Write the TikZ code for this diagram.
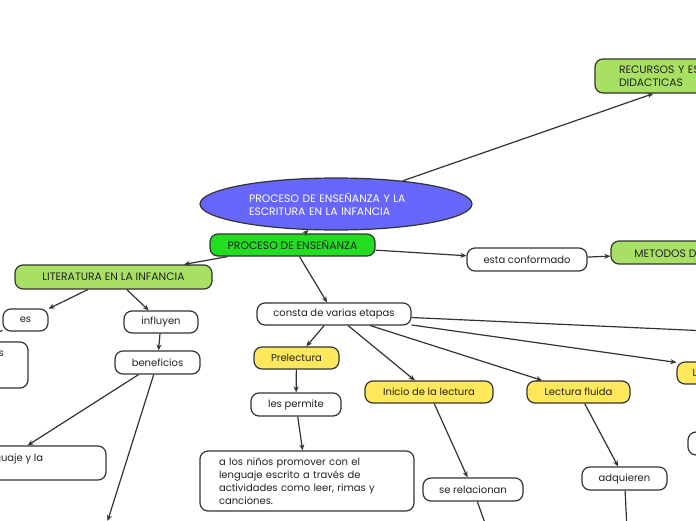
\documentclass[tikz,border=0pt]{standalone}
\usepackage{fontspec}
\setmainfont{Poppins}
\usetikzlibrary{arrows.meta,shapes.geometric,calc}
\definecolor{bordc}{HTML}{333333}
\definecolor{txtc}{HTML}{222222}
\definecolor{rootc}{HTML}{6666FA}
\definecolor{pegreen}{HTML}{22DD22}
\definecolor{lgreen}{HTML}{A8E063}
\definecolor{yel}{HTML}{FFE85C}
\tikzset{
  box/.style={draw=bordc, line width=1.2pt, rounded corners=8pt, inner sep=0pt,
    font=\fontsize{10}{13}\selectfont, text=txtc},
  capsfont/.style={font=\fontsize{10.8}{13}\selectfont},
  wbox/.style={box, fill=white},
  gbox/.style={box, fill=lgreen, capsfont},
  ybox/.style={box, fill=yel},
  conn/.style={draw=bordc, line width=1.2pt},
  arr/.style={conn, -{Stealth[length=6pt,width=5pt]}},
  plaintxt/.style={font=\fontsize{10}{13}\selectfont, text=txtc, inner sep=0pt},
}
\begin{document}
\begin{tikzpicture}[x=1pt,y=-1pt]
\useasboundingbox (0,0) rectangle (696,520);
\fill[white] (0,0) rectangle (696,520);
\clip (0,0) rectangle (696,520);

% nodes
\node[ellipse, draw=bordc, line width=1.2pt, fill=rootc, text=white, inner sep=0pt,
  minimum width=272pt, minimum height=52pt, align=left, text width=174pt,
  capsfont] (root) at (336,204)
  {PROCESO DE ENSEÑANZA Y LA\\ESCRITURA EN LA INFANCIA};
\node[box, fill=pegreen, capsfont, minimum width=165pt, minimum height=22pt] (pe) at (292.5,245) {PROCESO DE ENSEÑANZA};
\node[gbox, minimum width=218pt, minimum height=34pt, text width=170pt, align=left] (rec) at (704,76)
  {RECURSOS Y ESTRATEGIAS\\DIDACTICAS};
\node[gbox, minimum width=178pt, minimum height=23pt] (met) at (700,252.5) {METODOS DE ENSEÑANZA};
\node[wbox, minimum width=120pt, minimum height=23pt] (esta) at (527,259.5) {esta conformado};
\node[gbox, minimum width=197pt, minimum height=24pt] (lit) at (113.5,277) {LITERATURA EN LA INFANCIA};
\node[wbox, minimum width=45pt, minimum height=22pt] (es) at (25.5,320) {es};
\node[wbox, minimum width=204pt, minimum height=46pt] (left1) at (-74,365) {};
\node[plaintxt, anchor=base west] (left1t) at (-1.5,356.5) {s};
\node[wbox, minimum width=74pt, minimum height=22pt] (infl) at (161,322) {influyen};
\node[wbox, minimum width=85pt, minimum height=23pt] (ben) at (157.5,362.5) {beneficios};
\node[wbox, minimum width=212pt, minimum height=34pt] (lang) at (0,463) {};
\node[plaintxt, anchor=base west] (langt) at (-21,461) {lenguaje y la};
\node[wbox, minimum width=154pt, minimum height=22pt] (consta) at (334,314) {consta de varias etapas};
\node[ybox, minimum width=85pt, minimum height=22pt] (prel) at (296.5,358) {Prelectura};
\node[wbox, minimum width=90pt, minimum height=23pt] (les) at (296,404.5) {les permite};
\node[wbox, minimum width=214pt, minimum height=60pt, text width=176pt, align=left] (big) at (307,481)
  {a los niños promover con el\\lenguaje escrito a través de\\actividades como leer, rimas y\\canciones.};
\node[ybox, minimum width=128pt, minimum height=22pt] (ini) at (429,392) {Inicio de la lectura};
\node[wbox, minimum width=100pt, minimum height=23pt] (serel) at (473,489.5) {se relacionan};
\node[ybox, minimum width=103pt, minimum height=22pt] (flu) at (578.5,392) {Lectura fluida};
\node[wbox, minimum width=85pt, minimum height=23pt] (adq) at (624.5,478.5) {adquieren};
\node[ybox, minimum width=148pt, minimum height=22pt] (ryel) at (751,373) {};
\node[plaintxt, anchor=base west] (ryelt) at (692.5,376.5) {L};
\node[wbox, minimum width=100pt, minimum height=23pt] (rwh) at (738,443.5) {};

\coordinate (bendown) at (107.6,521);
\coordinate (offr) at (950,342);
\coordinate (serdown) at (491,540);
\coordinate (adqdown) at (627.5,540);

% connectors
\draw[arr] (pe) -- (root);
\draw[arr] (root) -- (rec);
\draw[arr] (pe) -- (esta);
\draw[arr] (esta) -- (met);
\draw[arr] (pe) -- (lit);
\draw[arr] (pe) -- (consta);
\draw[arr] (lit) -- (es);
\draw[arr] (es) -- (left1);
\draw[arr] (lit) -- (infl);
\draw[arr] (infl) -- (ben);
\draw[arr] (ben) -- (lang);
\draw[arr] (ben) -- (bendown);
\draw[arr] (consta) -- (prel);
\draw[arr] (consta) -- (ini);
\draw[arr] (consta) -- (flu);
\draw[arr] (consta) -- (ryel);
\draw[arr] (consta) -- (offr);
\draw[arr] (prel) -- (les);
\draw[arr] (les) -- (big);
\draw[arr] (ini) -- (serel);
\draw[arr] (serel) -- (serdown);
\draw[arr] (flu) -- (adq);
\draw[arr] (adq) -- (adqdown);
\end{tikzpicture}
\end{document}
